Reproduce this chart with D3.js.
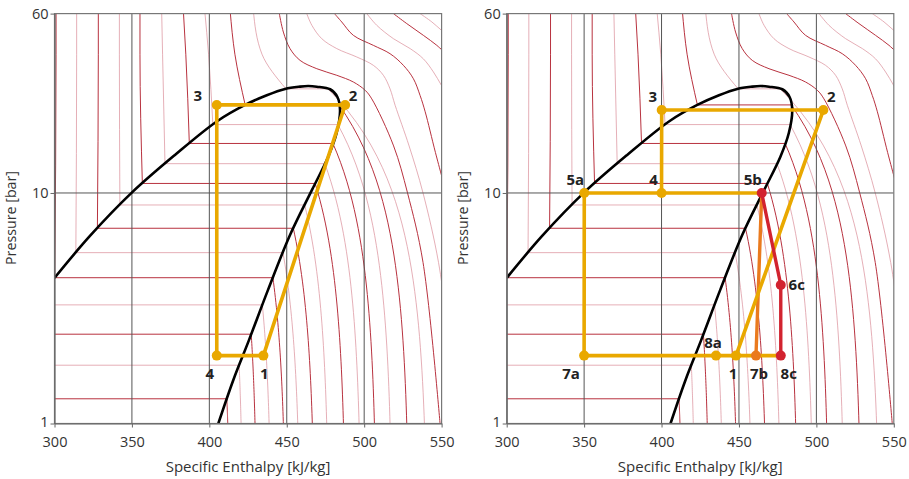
<!DOCTYPE html>
<html><head><meta charset="utf-8">
<script src="https://cdn.jsdelivr.net/npm/d3@7"></script>
<style>
body{margin:0;background:#fff}
svg{display:block}
text{font-family:"Open Sans","Noto Sans",sans-serif}
</style></head>
<body><svg id="c" width="909" height="479"></svg>
<script>
// ---------- data ----------
const hTicks = [300, 350, 400, 450, 500, 550];
const pTicks = [1, 10, 60];
const hGrid = [350, 400, 450, 500];
const pGrid = [10];

// saturation dome: liquid side up to the top, then vapour side down
const domeH = [300, 322.9, 349.9, 377.8, 404.8, 423.1, 437.1, 448.9, 458.6, 463.8, 469.4, 478.0, 482.7, 484.4, 482.2, 476.7, 466.3, 452.1, 437.9, 425.6, 415.5, 405.8];
const domeP = [4.28, 6.51, 10.03, 14.62, 20.43, 24.09, 26.54, 28.26, 28.92, 29.1, 28.92, 28.18, 26.09, 22.92, 18.2, 14.33, 10.31, 6.57, 3.80, 2.30, 1.545, 1.0];

// subcritical isotherms
const isoPsat = [1.28, 1.79, 2.44, 3.27, 4.29, 5.51, 7.03, 8.87, 11.0, 13.4, 16.4, 19.8, 24.1, 28.3];
const isoH60  = [null, null, null, null, 301, 314.3, 328.3, 341.9, 355.2, 369.2, 383.2, 397, 413.4, 428.4];
const isoH40  = [null, null, null, null, 301, 314.3, 328.3, 341.9, 355.2, 369.8, 384.8, 399.5, 416.5, 434];
const isoH1   = [411.9, 420.5, 429.5, 438.6, 447.8, 457.1, 466.5, 475.8, 486.6, 496.7, 506.6, 516.7, 527.5, 538.9];

// supercritical isotherms
const superH = [
  [445.2, 447.8, 452.1, 458.6, 469.4, 482.3, 493.0, 500.6, 504.9, 519, 528, 538, 549],
  [462.9, 466.2, 472.6, 482.3, 495.2, 505.9, 512.4, 516.7, 520.0, 529, 538, 548, 556],
  [480.8, 485.5, 493.0, 505.9, 516.7, 525.3, 531.8, 536.1, 539.4, 546, 553],
  [501.7, 508.1, 518.9, 529.7, 538.2, 544.7, 549.9, 556],
  [518.9, 527.5, 538.2, 546.9, 553],
  [536.1, 543.7, 549.9, 556]
];
const superP = [
  [60, 49.9, 42.3, 37.6, 34.6, 32.4, 30.3, 27.9, 25.6, 16, 10, 5, 1],
  [60, 53.4, 46.7, 42.3, 38.9, 35.8, 32.4, 28.3, 24.0, 16, 10, 5, 2],
  [60, 55.2, 48.3, 43.7, 40.2, 35.8, 31.3, 26.5, 22.5, 15, 10],
  [60, 53.4, 46.7, 42.3, 38.2, 33.5, 29.3, 25],
  [60, 54.3, 48.3, 43.7, 40],
  [60, 55.2, 50.8, 47]
];

// left cycle
const leftNames = ["1", "2", "3", "4"];
const leftH = [434.9, 487.7, 404.8, 404.8];
const leftP = [1.97, 24.1, 24.1, 1.97];

// right cycle
const rightNames = ["1", "2", "3", "4", "5a", "5b", "6c", "7a", "7b", "8a", "8c"];
const rightH = [448.1, 504.5, 400.1, 400.0, 350.1, 464.7, 477.0, 350.0, 461.0, 435.2, 477.0];
const rightP = [1.97, 22.9, 22.9, 10, 10, 10, 3.99, 1.97, 1.97, 1.97, 1.97];

// ---------- styles / layout ----------
const GOLD = "#E9A800", ORANGE = "#EA7A1E", RED = "#D2232F";
const ISO_DARK = "#B8323F", ISO_LIGHT = "#DE9AA4";
const y = d3.scaleLog().domain([1, 60]).range([423.5, 13.6]);
const xL = d3.scaleLinear().domain([300, 550]).range([54.5, 441.6]);
const xR = d3.scaleLinear().domain([300, 550]).range([506.7, 893.8]);

const svg = d3.select("#c");

// dome split
const kTop = domeP.indexOf(d3.max(domeP));
const liq = domeH.slice(0, kTop + 1).map((h, i) => [h, domeP[i]]);
const vap = domeH.slice(kTop).map((h, i) => [h, domeP[kTop + i]]).reverse();
function interpH(arr, p) {
  if (p <= arr[0][1]) return null;
  for (let i = 1; i < arr.length; i++) {
    const a = arr[i - 1], b = arr[i];
    if (p <= b[1]) {
      const t = (Math.log(p) - Math.log(a[1])) / (Math.log(b[1]) - Math.log(a[1]) || 1);
      return a[0] + t * (b[0] - a[0]);
    }
  }
  return arr[arr.length - 1][0];
}

function panel(xs, id, names, H, P, drawCycle, labelOff) {
  const [x0, x1] = xs.range();
  const g = svg.append("g");
  g.append("clipPath").attr("id", id).append("rect")
    .attr("x", x0).attr("y", y.range()[1]).attr("width", x1 - x0).attr("height", y.range()[0] - y.range()[1]);
  const plot = g.append("g").attr("clip-path", `url(#${id})`);
  const ln = d3.line().x(d => xs(d[0])).y(d => y(d[1]));

  // isotherms
  isoPsat.forEach((ps, i) => {
    const col = i % 2 === 0 ? ISO_DARK : ISO_LIGHT;
    const w = i % 2 === 0 ? 1.0 : 0.8;
    const hl = interpH(liq, ps);
    const hv = interpH(vap, ps);
    const segs = [];
    if (isoH60[i] != null) {
      const pts = [[isoH60[i], 62]];
      if (ps < 40) pts.push([isoH40[i], 40]);
      pts.push([hl, ps]);
      segs.push(ln.curve(d3.curveMonotoneY)(pts));
    }
    segs.push(ln.curve(d3.curveLinear)([[hl == null ? 290 : hl, ps], [hv, ps]]));
    const vp = [];
    const n = 30;
    for (let k = 0; k <= n; k++) {
      const p = Math.exp(Math.log(ps) + (Math.log(0.97) - Math.log(ps)) * k / n);
      vp.push([isoH1[i] - (isoH1[i] - hv) * (p - 1) / (ps - 1), p]);
    }
    segs.push(ln.curve(d3.curveLinear)(vp));
    segs.forEach(d => plot.append("path").attr("d", d).attr("fill", "none").attr("stroke", col).attr("stroke-width", w));
  });
  superH.forEach((hs, j) => {
    const i = isoPsat.length + j;
    const col = i % 2 === 0 ? ISO_DARK : ISO_LIGHT;
    const w = i % 2 === 0 ? 1.0 : 0.8;
    const pts = hs.map((h, k) => [h, superP[j][k]]);
    plot.append("path").attr("d", ln.curve(d3.curveCatmullRom.alpha(0.5))(pts))
      .attr("fill", "none").attr("stroke", col).attr("stroke-width", w);
  });

  // grid
  hGrid.forEach(h => plot.append("line").attr("x1", xs(h)).attr("x2", xs(h)).attr("y1", y.range()[1]).attr("y2", y.range()[0])
    .attr("stroke", "#555").attr("stroke-width", 1));
  pGrid.forEach(p => plot.append("line").attr("x1", x0).attr("x2", x1).attr("y1", y(p)).attr("y2", y(p))
    .attr("stroke", "#555").attr("stroke-width", 1));

  // dome
  plot.append("path").attr("d", ln.curve(d3.curveCatmullRom.alpha(0.5))(domeH.map((h, i) => [h, domeP[i]])))
    .attr("fill", "none").attr("stroke", "#000").attr("stroke-width", 2.6);

  // frame & axes
  g.append("rect").attr("x", x0).attr("y", y.range()[1]).attr("width", x1 - x0).attr("height", y.range()[0] - y.range()[1])
    .attr("fill", "none").attr("stroke", "#777").attr("stroke-width", 1.2);
  const ax = g.append("g").attr("transform", `translate(0,${y.range()[0]})`)
    .call(d3.axisBottom(xs).tickValues(hTicks).tickSizeInner(4).tickSizeOuter(0).tickPadding(9).tickFormat(d3.format("d")));
  const ay = g.append("g").attr("transform", `translate(${x0},0)`)
    .call(d3.axisLeft(y).tickValues(pTicks).tickSizeInner(4).tickSizeOuter(0).tickPadding(2).tickFormat(d3.format("d")));
  [ax, ay].forEach(a => {
    a.select(".domain").attr("stroke", "#666").attr("stroke-width", 1.2);
    a.selectAll(".tick line").attr("stroke", "#666");
    a.selectAll(".tick text").attr("font-size", 14.5).attr("fill", "#333").attr("font-family", '"Open Sans",sans-serif');
  });
  ay.selectAll(".tick text").filter(d => d === 1).attr("dy", "0.2em");
  g.append("text").attr("x", (x0 + x1) / 2).attr("y", 472).attr("text-anchor", "middle")
    .attr("font-size", 15).attr("fill", "#333").text("Specific Enthalpy [kJ/kg]");
  g.append("text").attr("transform", `translate(${x0 - 39},218) rotate(-90)`).attr("text-anchor", "middle")
    .attr("font-size", 14).attr("fill", "#333").attr("textLength", 94).attr("lengthAdjust", "spacingAndGlyphs").text("Pressure [bar]");

  // cycle
  const pt = {};
  names.forEach((n, i) => pt[n] = [H[i], P[i]]);
  drawCycle(g, pt, xs);
  names.forEach(n => {
    const o = labelOff[n];
    g.append("text").attr("x", xs(pt[n][0]) + o[0]).attr("y", y(pt[n][1]) + o[1]).attr("dy", "0.36em")
      .attr("text-anchor", "middle").attr("font-family", '"Liberation Sans",Arial,sans-serif')
      .attr("font-weight", "bold").attr("font-size", 15).attr("fill", "#222").text(n);
  });
}

function pathOf(g, xs, pts, col, w) {
  const line = d3.line().x(d => xs(d[0])).y(d => y(d[1]));
  g.append("path").attr("d", line(pts)).attr("fill", "none").attr("stroke", col)
    .attr("stroke-width", w).attr("stroke-linejoin", "round").attr("stroke-linecap", "round");
}
function dot(g, xs, p, col) {
  g.append("circle").attr("cx", xs(p[0])).attr("cy", y(p[1])).attr("r", 5).attr("fill", col);
}

panel(xL, "clipL", leftNames, leftH, leftP, (g, pt, xs) => {
  pathOf(g, xs, [pt["1"], pt["2"], pt["3"], pt["4"], pt["1"]], GOLD, 3.6);
  ["1", "2", "3", "4"].forEach(n => dot(g, xs, pt[n], GOLD));
}, {"1": [1, 18], "2": [8, -9], "3": [-19, -9], "4": [-7, 18]});

panel(xR, "clipR", rightNames, rightH, rightP, (g, pt, xs) => {
  pathOf(g, xs, [pt["5b"], pt["7b"]], ORANGE, 3.4);
  pathOf(g, xs, [pt["1"], pt["2"], pt["3"], pt["4"]], GOLD, 3.6);
  pathOf(g, xs, [pt["5b"], pt["5a"], pt["7a"], pt["8c"]], GOLD, 3.6);
  pathOf(g, xs, [pt["5b"], pt["6c"], pt["8c"]], RED, 3.4);
  ["1", "2", "3", "4", "5a", "7a", "8a"].forEach(n => dot(g, xs, pt[n], GOLD));
  dot(g, xs, pt["7b"], ORANGE);
  ["5b", "6c", "8c"].forEach(n => dot(g, xs, pt[n], RED));
}, {"1": [-3, 18], "2": [8, -13], "3": [-9, -13], "4": [-8, -13], "5a": [-9, -13], "5b": [-9, -13],
    "6c": [16, 0], "7a": [-13, 18], "7b": [3, 18], "8a": [-3, -13], "8c": [8, 18]});
</script>
</body></html>
